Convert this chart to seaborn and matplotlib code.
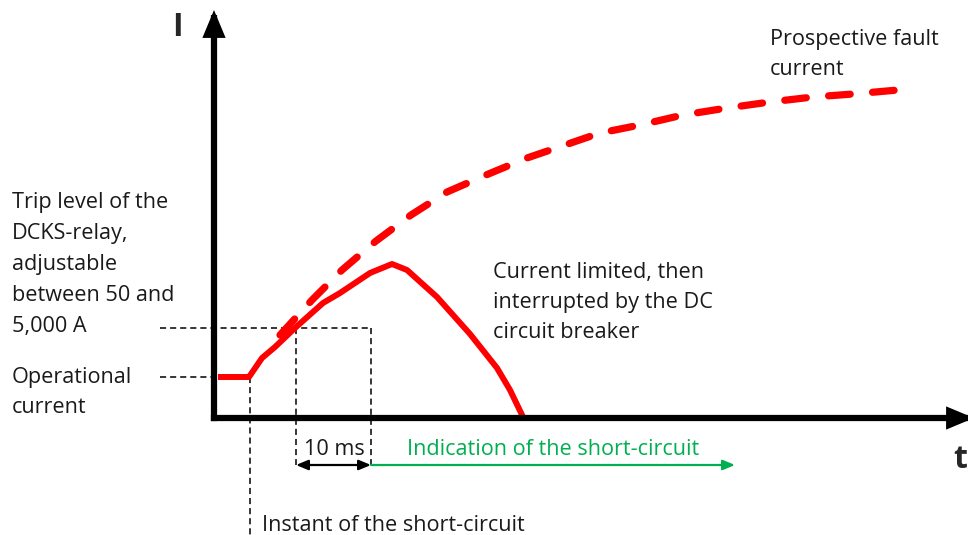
import numpy as np
import pandas as pd
import matplotlib
matplotlib.use("Agg")
import matplotlib.pyplot as plt
import seaborn as sns

# limited current (solid), pixel space (y down)
lim_x = [218, 249, 262, 275, 295, 323, 340, 370, 392, 407, 437, 470, 497, 510, 523]
lim_y = [377, 377, 358, 347, 328, 303, 293, 273, 264, 270, 297, 334, 368, 390, 417]

# prospective fault current (dashed)
pro_x = [280, 312, 342, 376, 411, 447, 486, 527, 565, 600, 640, 683, 727, 770, 813, 853, 898]
pro_y = [335, 300, 270, 241, 215, 192, 175, 158, 145, 133, 125, 115, 108, 102, 97, 94, 90]

origin = (214, 418)
t_end = 974
i_end = 10
op_level = 377
trip_level = 328
t_fault = 250
t_trip = 296
t_ind = 371
t_ind_end = 735
arrow_y = 465

labels = [
    (12, 208, 31, ["Trip level of the", "DCKS-relay,", "adjustable", "between 50 and", "5,000 A"], "#1a1a1a"),
    (12, 383, 30, ["Operational", "current"], "#1a1a1a"),
    (493, 278, 30, ["Current limited, then", "interrupted by the DC", "circuit breaker"], "#1a1a1a"),
    (770, 45, 30, ["Prospective fault", "current"], "#1a1a1a"),
    (304, 455, 0, ["10 ms"], "#1a1a1a"),
    (407, 455, 0, ["Indication of the short-circuit"], "#00B050"),
    (262, 531, 0, ["Instant of the short-circuit"], "#1a1a1a"),
]

sns.set_style("white")
plt.rcParams["font.family"] = ["Open Sans", "DejaVu Sans"]

fig = plt.figure(figsize=(9.68, 5.35), dpi=100)
ax = fig.add_axes([0, 0, 1, 1])
ax.set_xlim(0, 968)
ax.set_ylim(535, 0)
ax.axis("off")

# thin black dashed guide lines
guide = dict(color="black", lw=1.1, dashes=(4, 2.6), zorder=2)
ax.plot([160, origin[0]], [op_level, op_level], **guide)
ax.plot([160, t_ind], [trip_level, trip_level], **guide)
ax.plot([t_fault, t_fault], [op_level, 535], **guide)
ax.plot([t_trip, t_trip], [trip_level, arrow_y], **guide)
ax.plot([t_ind, t_ind], [trip_level, arrow_y], **guide)

# curves
df_lim = pd.DataFrame({"t": lim_x, "i": lim_y})
df_pro = pd.DataFrame({"t": pro_x, "i": pro_y})
sns.lineplot(data=df_pro, x="t", y="i", ax=ax, color="#FF0000", lw=5.2,
             sort=False, estimator=None, zorder=3)
ln = ax.lines[-1]
ln.set_dashes((3.0, 3.1))
ln.set_dash_capstyle("round")
sns.lineplot(data=df_lim, x="t", y="i", ax=ax, color="#FF0000", lw=4.3,
             sort=False, estimator=None, zorder=4)
ax.lines[-1].set_solid_capstyle("butt")
ax.lines[-1].set_solid_joinstyle("round")

# axes with arrows
axis_arrow = dict(arrowstyle="-|>,head_length=0.6,head_width=0.25",
                  mutation_scale=20, lw=4.5, color="black",
                  shrinkA=0, shrinkB=0, joinstyle="miter", capstyle="projecting")
ax.annotate("", xy=(t_end, origin[1]), xytext=origin,
            arrowprops=axis_arrow, annotation_clip=False, zorder=5)
ax.annotate("", xy=(origin[0], i_end), xytext=origin,
            arrowprops=axis_arrow, annotation_clip=False, zorder=5)

# 10 ms and indication arrows
ax.annotate("", xy=(t_ind, arrow_y), xytext=(t_trip, arrow_y),
            arrowprops=dict(arrowstyle="<|-|>,head_length=0.6,head_width=0.25",
                            mutation_scale=12, lw=1.6, color="black",
                            shrinkA=0, shrinkB=0), zorder=5)
ax.annotate("", xy=(t_ind_end, arrow_y), xytext=(t_ind, arrow_y),
            arrowprops=dict(arrowstyle="-|>,head_length=0.6,head_width=0.25",
                            mutation_scale=12, lw=1.6, color="#00B050",
                            shrinkA=0, shrinkB=0), zorder=5)

for x0, y0, step, lines, col in labels:
    for k, s in enumerate(lines):
        ax.text(x0, y0 + k * step, s, fontsize=15.6, color=col,
                ha="left", va="baseline")

ax.text(177, 36, "I", fontsize=23, fontweight="bold", ha="center", va="baseline")
ax.text(953, 468, "t", fontsize=23, fontweight="bold", ha="left", va="baseline")

fig.savefig("out.png", dpi=100)
